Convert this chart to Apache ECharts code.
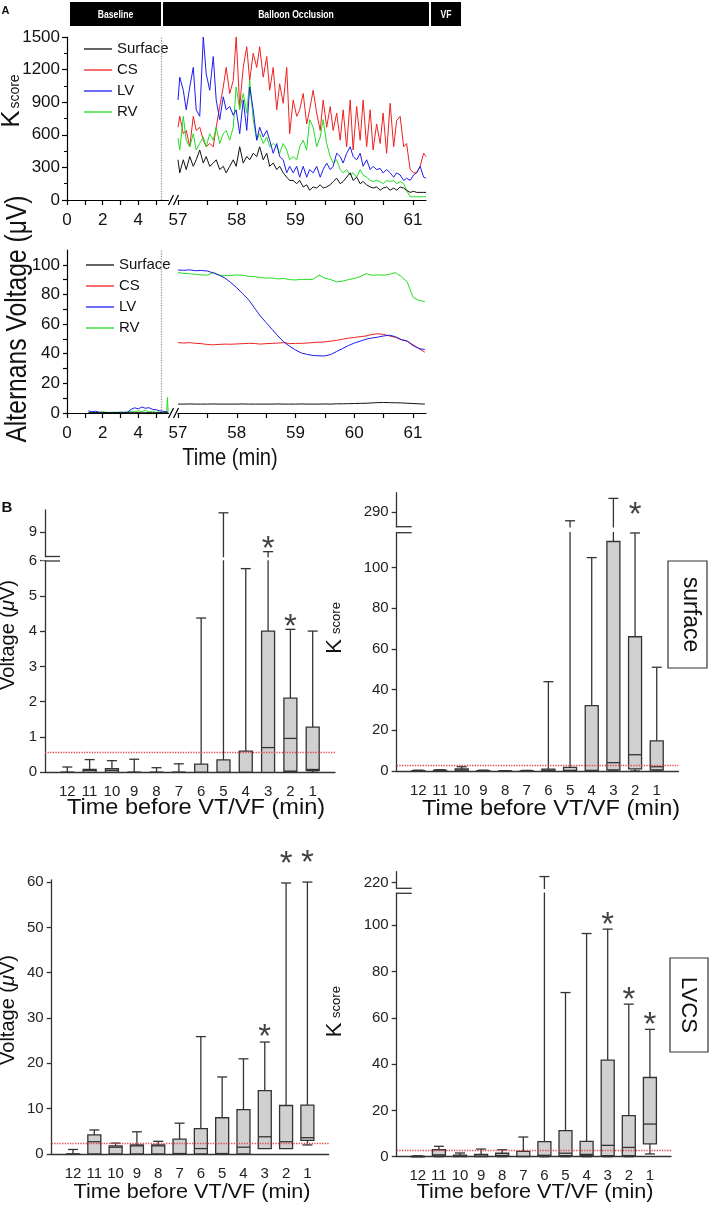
<!DOCTYPE html>
<html>
<head>
<meta charset="utf-8">
<script src="https://cdn.jsdelivr.net/npm/echarts@6.0.0/dist/echarts.min.js"></script>
<style>
html,body{margin:0;padding:0;background:#ffffff;}
#chart{width:709px;height:1211px;}
</style>
</head>
<body>
<div id="chart"></div>
<script>
// ================= DATA =================
// Panel A (top): K-score during balloon occlusion, time in minutes
const kTime = [57.00,57.03,57.09,57.14,57.20,57.26,57.31,57.37,57.43,57.48,
  57.54,57.60,57.65,57.71,57.77,57.82,57.88,57.94,57.99,58.05,
  58.11,58.17,58.22,58.28,58.34,58.39,58.45,58.51,58.56,58.62,
  58.68,58.73,58.79,58.85,58.90,58.96,59.02,59.07,59.13,59.19,
  59.24,59.30,59.36,59.42,59.47,59.53,59.59,59.64,59.70,59.76,
  59.81,59.87,59.93,59.98,60.04,60.10,60.15,60.21,60.27,60.32,
  60.38,60.44,60.49,60.55,60.61,60.67,60.72,60.78,60.84,60.89,
  60.95,61.01,61.06,61.12,61.18,61.22];
const kSurface = [370,250,370,280,400,310,370,460,340,400,
  310,340,370,280,310,250,310,370,310,490,
  340,400,370,430,400,490,370,430,310,340,
  280,310,250,210,180,180,150,180,120,140,
  90,120,110,140,110,120,140,170,200,150,
  170,210,250,180,210,150,170,140,120,110,
  120,90,110,120,90,110,90,120,110,90,
  70,80,70,70,70,70];
const kCS = [670,770,610,640,490,770,640,670,550,490,
  520,490,670,860,1040,1220,980,1100,1500,860,
  1220,1410,1100,1350,1220,1410,1130,1320,1010,1220,
  830,1070,890,1220,610,920,770,830,980,700,
  830,1010,800,640,920,670,860,640,800,550,
  830,490,920,460,860,550,920,490,830,460,
  700,520,800,430,890,490,730,770,490,520,
  280,250,250,310,430,400];
const kLV = [920,1130,1010,830,1040,1220,830,770,1500,1160,
  1010,1320,920,740,950,830,860,780,830,610,
  920,640,1040,830,550,670,580,640,550,430,
  520,400,370,250,310,250,310,210,310,210,
  280,250,310,210,280,340,280,310,430,400,
  340,430,490,400,370,430,310,370,280,310,
  280,290,250,280,250,210,250,230,180,200,
  180,230,250,310,210,200];
const kRV = [570,460,770,550,490,610,460,520,580,490,
  610,550,670,520,610,640,550,670,1040,830,
  980,800,1100,740,550,610,520,580,490,520,
  490,430,520,460,370,400,370,490,550,460,
  740,670,490,580,740,520,400,340,370,280,
  250,280,230,250,210,280,230,210,180,170,
  180,170,150,180,170,180,150,170,150,90,
  30,30,30,30,30,30];

// Panel A (middle): alternans voltage (µV)
const baseTime = [1.2,1.4,1.6,1.8,2.0,2.2,2.4,2.6,2.8,3.0,3.2,3.4,3.6,3.8,4.0,4.2,4.4,4.6,4.8,5.0,5.2,5.4,5.6,5.64,5.68];
const baseSurface = [0.2,0.2,0.3,0.2,0.2,0.3,0.2,0.2,0.3,0.2,0.2,0.3,0.2,0.2,0.3,0.2,0.2,0.3,0.2,0.2,0.3,0.2,0.2,0.2,0.2];
const baseLV = [1.5,0.8,1.2,0.5,0.2,0.3,0.4,0.3,0.4,0.3,0.5,0.6,2.5,3.5,2.8,4.0,3.2,3.6,2.5,2.2,1.5,1.2,0.8,0.6,0.5];
const baseRV = [0.3,0.5,0.2,0.4,1.0,0.5,0.3,0.6,0.4,0.8,0.3,0.5,1.2,0.8,1.5,1.0,1.8,0.6,1.2,0.4,0.8,0.5,0.5,10.5,0.5];
const vTime = [57.0,57.1,57.2,57.3,57.4,57.5,57.6,57.7,57.8,57.9,58.0,58.1,58.2,58.3,58.4,58.5,58.6,58.7,58.8,58.9,
  59.0,59.1,59.2,59.3,59.4,59.5,59.6,59.7,59.8,59.9,60.0,60.1,60.2,60.3,60.4,60.5,60.6,60.7,60.8,60.9,61.0,61.1,61.2];
const vSurface = [6.0,6.0,6.1,6.0,6.0,6.0,6.1,6.0,6.0,6.0,6.0,6.1,6.0,6.0,6.0,6.0,6.0,6.1,6.0,6.0,
  6.0,6.1,6.0,6.0,6.0,6.1,6.0,6.2,6.2,6.3,6.4,6.5,6.6,6.8,7.0,7.1,7.0,6.9,6.8,6.6,6.4,6.2,6.0];
const vCS = [47.5,47.2,47.5,47.0,46.8,46.2,46.0,46.3,46.5,46.4,46.6,46.8,47.0,46.9,46.5,46.8,47.0,47.2,47.5,46.8,
  47.0,47.0,47.2,47.5,47.8,48.0,48.5,49.0,49.8,50.5,51.0,51.5,52.0,53.0,53.5,53.0,52.0,51.0,49.5,48.5,46.0,43.5,41.0];
const vLV = [96.5,96.3,96.6,96.0,96.2,95.8,94.5,93.0,91.0,88.0,84.5,80.5,76.5,71.0,65.5,61.0,56.5,52.0,48.0,45.0,
  42.5,40.5,39.5,38.8,38.6,38.5,39.5,41.5,43.5,45.5,47.2,48.5,49.8,50.6,51.2,52.0,52.5,51.5,49.5,48.5,45.5,43.5,42.8];
const vRV = [94.8,94.2,94.0,93.6,93.2,93.0,95.0,93.0,92.6,92.8,93.2,93.0,92.2,92.0,91.5,91.0,91.2,90.5,90.8,90.0,
  89.8,90.2,90.0,90.3,93.0,91.0,90.0,88.5,89.0,90.0,90.8,92.0,94.0,93.0,93.2,93.0,93.5,94.8,92.0,88.5,78.0,76.0,75.2];
const seriesNames = ['Surface','CS','LV','RV'];
const occlusionStart = 5.28;
const phaseLabels = ['Baseline','Balloon Occlusion','VF'];
const vLabelTicks = [0,20,40,60,80,100];
const baseLabelTicks = [0,2,4];
const occLabelTicks = [57,58,59,60,61];

// Panel B: box plots [min, Q1, median, Q3, max] per minute before VT/VF
const minuteLabels = ['12','11','10','9','8','7','6','5','4','3','2','1'];
const surfVoltBox = [[0,0,0,0,0.15],[0,0,0.05,0.08,0.36],[0,0,0.05,0.1,0.33],[0,0,0,0,0.37],[0,0,0,0,0.13],[0,0,0,0,0.24],
  [0,0,0,0.23,4.37],[0,0,0,0.35,9.55],[0,0,0,0.6,5.77],[0,0,0.7,4.0,8.45],[0,0.03,0.96,2.1,4.05],[0,0.05,0.08,1.28,4.0]];
const surfKBox = [[0,0,0,0.2,0.4],[0,0,0.2,0.4,0.6],[0,0,0.5,1.0,2.1],[0,0,0,0.2,0.4],[0,0,0,0,0.1],[0,0,0,0.1,0.3],
  [0,0,0.3,0.9,43.9],[0,0,0.3,1.8,285.7],[0,0,0.3,32.1,104.9],[0,0.5,4.1,112.8,296.7],[0,1.0,8.0,66,117],[0,0.5,2.1,14.8,51]];
const lvcsVoltBox = [[0,0,0,0,1.0],[0,0,2.7,4.2,5.3],[0,0,1.5,1.8,2.4],[0,0,1.8,2.0,4.9],[0,0,1.8,2.0,2.8],[0,0,0.1,3.3,6.8],
  [0,0,1.2,5.6,25.9],[0,0,0.1,8.0,17.0],[0,0,1.5,9.8,21.0],[1.2,1.2,3.8,14.0,24.7],[1.2,1.2,2.7,10.7,59.8],[2.0,3.0,3.6,10.8,60.0]];
const lvcsKBox = [[0,0,0,0.2,0.4],[0,0.3,0.8,3.0,4.5],[0,0,0.3,0.7,1.6],[0,0,0.3,1.0,3.3],[0,0.2,0.5,1.5,3.0],[0,0,0.2,2.3,8.5],
  [0,0.2,0.6,6.5,222.6],[0,0.5,1.5,11.3,70.9],[0,0.5,1.0,6.6,96.4],[0,0.5,4.9,41.7,98.3],[0,0.5,4.0,17.7,65.9],[1.2,5.5,14.1,34.2,55.0]];
const surfVoltThreshold = 0.555, surfKThreshold = 3.0, lvcsVoltThreshold = 2.3, lvcsKThreshold = 2.9;
const surfVoltStars = ['3','2'], surfKStars = ['2'], lvcsVoltStars = ['3','2','1'], lvcsKStars = ['3','2','1'];
const surfVoltTicks = [0,1,2,3,4,5,6,9];
const surfKTicks = [0,20,40,60,80,100,290];
const lvcsVoltTicks = [0,10,20,30,40,50,60];
const lvcsKTicks = [0,20,40,60,80,100,220];

// ================= STYLE / LAYOUT =================
const SANS = "'Liberation Sans', Arial, Helvetica, sans-serif";
const NARROW = "'Liberation Sans Narrow', 'Arial Narrow', 'Liberation Sans', Arial, sans-serif";
const A_FS = 17;
const lineColors = {Surface:'#111111', CS:'#ee2222', LV:'#1c1cee', RV:'#22dd22'};
const grids = [
  {left:67, top:37, width:101.5, height:163},
  {left:178, top:37, width:248, height:163},
  {left:67, top:250, width:101.5, height:163},
  {left:178, top:250, width:248, height:163}
];
const xAxes = [], yAxes = [], series = [], graphics = [];

function aX(gi, min, max, labels, ticks) {
  return {type:'value', gridIndex:gi, min:min, max:max,
    axisLine:{show:true, onZero:false, lineStyle:{color:'#000', width:1.2}},
    axisTick:{show:true, customValues:ticks, length:5, lineStyle:{color:'#000', width:1.2}},
    axisLabel:{show:true, customValues:labels, formatter:v => String(v), fontFamily:NARROW, fontSize:A_FS, color:'#111', margin:12},
    splitLine:{show:false}};
}
xAxes.push(aX(0, 0, 5.7, baseLabelTicks, [0,1,2,3,4,5]));
xAxes.push(aX(1, 57, 61.22, occLabelTicks, [57,57.5,58,58.5,59,59.5,60,60.5,61]));
xAxes.push(aX(2, 0, 5.7, baseLabelTicks, [0,1,2,3,4,5]));
xAxes.push(aX(3, 57, 61.22, occLabelTicks, [57,57.5,58,58.5,59,59.5,60,60.5,61]));

yAxes.push({type:'value', gridIndex:0, min:0, max:1500, interval:300,
  axisLine:{show:true, lineStyle:{color:'#000', width:1.2}},
  axisTick:{show:true, length:5, lineStyle:{color:'#000', width:1.2}},
  minorTick:{show:true, splitNumber:2, length:3, lineStyle:{color:'#000'}},
  axisLabel:{formatter:v => String(v), fontFamily:NARROW, fontSize:A_FS, color:'#111', margin:7}, splitLine:{show:false}});
yAxes.push({type:'value', gridIndex:1, min:0, max:1500, show:false, splitLine:{show:false}});
yAxes.push({type:'value', gridIndex:2, min:0, max:110,
  axisLine:{show:true, lineStyle:{color:'#000', width:1.2}},
  axisTick:{show:true, length:4, customValues:[0,10,20,30,40,50,60,70,80,90,100], lineStyle:{color:'#000', width:1.2}},
  axisLabel:{customValues:vLabelTicks, formatter:v => String(v), fontFamily:NARROW, fontSize:A_FS, color:'#111', margin:7}, splitLine:{show:false}});
yAxes.push({type:'value', gridIndex:3, min:0, max:110, show:false, splitLine:{show:false}});

function pairs(t, v) { return t.map((x, i) => [x, v[i]]); }
function lineSeries(name, gi, t, v, z) {
  return {type:'line', name:name, xAxisIndex:gi, yAxisIndex:gi, data:pairs(t, v), symbol:'none', showSymbol:false,
    color:lineColors[name], lineStyle:{width:1, color:lineColors[name]}, animation:false, z:z || 2};
}
const dotted = {silent:true, symbol:['none','none'], label:{show:false}, lineStyle:{color:'#9a9a9a', type:'dotted', width:1.3}, data:[{xAxis:occlusionStart}]};
// top chart
series.push({type:'line', name:'_divTop', xAxisIndex:0, yAxisIndex:0, data:[], symbol:'none', markLine:dotted});
series.push(lineSeries('CS', 1, kTime, kCS, 2));
series.push(lineSeries('RV', 1, kTime, kRV, 3));
series.push(lineSeries('LV', 1, kTime, kLV, 4));
series.push(lineSeries('Surface', 1, kTime, kSurface, 5));
// middle chart
const bs = lineSeries('Surface', 2, baseTime, baseSurface, 5);
bs.markLine = dotted;
series.push(bs);
series.push(lineSeries('RV', 2, baseTime, baseRV, 3));
series.push(lineSeries('LV', 2, baseTime, baseLV, 4));
series.push(lineSeries('Surface', 3, vTime, vSurface, 5));
series.push(lineSeries('CS', 3, vTime, vCS, 2));
series.push(lineSeries('RV', 3, vTime, vRV, 3));
series.push(lineSeries('LV', 3, vTime, vLV, 4));

const legendBase = {orient:'vertical', icon:'rect', itemWidth:28, itemHeight:1.3, itemGap:0, selectedMode:false,
  data:seriesNames, textStyle:{fontFamily:NARROW, fontSize:15, lineHeight:21, color:'#111'}};
const legends = [Object.assign({}, legendBase, {left:79, top:33.5}), Object.assign({}, legendBase, {left:81, top:249.5})];

// ---------- panel B ----------
const panels = [
  {grid:{left:45, top:510, width:290, height:262.3}, dMax:7.43, lowMax:6, shift:2.2, ticks:surfVoltTicks,
    boxes:surfVoltBox, thr:surfVoltThreshold, stars:surfVoltStars, lift:[10,9], brk:[556.5,561]},
  {grid:{left:396.7, top:492.7, width:281.7, height:278.3}, dMax:136.8, lowMax:120, shift:162.7, ticks:surfKTicks,
    boxes:surfKBox, thr:surfKThreshold, stars:surfKStars, lift:[25], brk:[526.7,532.7]},
  {grid:{left:51.7, top:879.8, width:277, height:274.2}, dMax:60.5, lowMax:Infinity, shift:0, ticks:lvcsVoltTicks,
    boxes:lvcsVoltBox, thr:lvcsVoltThreshold, stars:lvcsVoltStars, lift:[12,26,26], brk:null},
  {grid:{left:396.7, top:871.7, width:274.3, height:285}, dMax:123.1, lowMax:120, shift:101.6, ticks:lvcsKTicks,
    boxes:lvcsKBox, thr:lvcsKThreshold, stars:lvcsKStars, lift:[11,11,11], brk:[888.3,893.3]}
];
const STAR_FS = 33;
panels.forEach((p, k) => {
  const gi = 4 + k;
  const f = v => (v > p.lowMax ? v - p.shift : v);
  grids.push(p.grid);
  xAxes.push({type:'category', gridIndex:gi, data:[''].concat(minuteLabels, ['']), boundaryGap:false,
    axisLine:{show:true, lineStyle:{color:'#333', width:1.3}}, axisTick:{show:false},
    axisLabel:{interval:0, fontFamily:SANS, fontSize:15, color:'#222', margin:12}, splitLine:{show:false}});
  const dTicks = p.ticks.map(f);
  const labelMap = {};
  p.ticks.forEach((r, i) => { labelMap[dTicks[i].toFixed(3)] = String(r); });
  yAxes.push({type:'value', gridIndex:gi, min:0, max:p.dMax,
    axisLine:{show:true, lineStyle:{color:'#333', width:1.3}},
    axisTick:{show:true, customValues:dTicks, length:5, lineStyle:{color:'#333', width:1.3}},
    axisLabel:{customValues:dTicks, formatter:v => (labelMap[Number(v).toFixed(3)] || ''), fontFamily:SANS, fontSize:15, color:'#222', margin:8},
    splitLine:{show:false}});
  series.push({type:'custom', xAxisIndex:gi, yAxisIndex:gi, animation:false, z:3,
    data:p.boxes.map((b, i) => [i + 1].concat(b.map(f))),
    renderItem:(params, api) => {
      const ci = api.value(0);
      const mn = api.value(1), q1 = api.value(2), md = api.value(3), q3 = api.value(4), mx = api.value(5);
      const c = v => api.coord([ci, v]);
      const x = c(q1)[0];
      const yMn = c(mn)[1], yQ1 = c(q1)[1], yMd = c(md)[1], yQ3 = c(q3)[1], yMx = c(mx)[1];
      const bw = 13, cw = 10;
      const st = {stroke:'#333', lineWidth:1.3, fill:null};
      const ch = [];
      if (mx > q3) ch.push({type:'line', shape:{x1:x, y1:yQ3, x2:x, y2:yMx}, style:st});
      ch.push({type:'line', shape:{x1:x - cw / 2, y1:yMx, x2:x + cw / 2, y2:yMx}, style:st});
      if (mn < q1) {
        ch.push({type:'line', shape:{x1:x, y1:yQ1, x2:x, y2:yMn}, style:st});
        ch.push({type:'line', shape:{x1:x - cw / 2, y1:yMn, x2:x + cw / 2, y2:yMn}, style:st});
      }
      ch.push({type:'rect', shape:{x:x - bw / 2, y:yQ3, width:bw, height:Math.max(yQ1 - yQ3, 0.01)}, style:{fill:'#d0d0d0', stroke:'#333', lineWidth:1.3}});
      ch.push({type:'line', shape:{x1:x - bw / 2, y1:yMd, x2:x + bw / 2, y2:yMd}, style:st});
      return {type:'group', children:ch};
    },
    markLine:{silent:true, symbol:['none','none'], label:{show:false}, lineStyle:{color:'#e04848', type:'dotted', width:1.3},
      data:[{yAxis:f(p.thr)}]}
  });
  series.push({type:'scatter', xAxisIndex:gi, yAxisIndex:gi, symbol:'circle', symbolSize:1, itemStyle:{color:'rgba(0,0,0,0)'},
    silent:true, animation:false, z:6,
    label:{show:true, formatter:'*', position:'inside', fontFamily:SANS, fontSize:STAR_FS, color:'#111'},
    data:p.stars.map((cat, j) => {
      const i = minuteLabels.indexOf(cat);
      return {value:[i + 1, f(p.boxes[i][4])], label:{offset:[0, -(p.lift[j] - 0.24 * STAR_FS)]}};
    })
  });
  if (p.brk) {
    const ax = p.grid.left, right = p.grid.left + p.grid.width;
    graphics.push({type:'rect', z:100, shape:{x:ax - 4, y:p.brk[0] + 0.8, width:right - ax + 4, height:p.brk[1] - p.brk[0] - 1.6}, style:{fill:'#fff'}});
    graphics.push({type:'line', z:101, shape:{x1:ax, y1:p.brk[0], x2:ax + 15, y2:p.brk[0]}, style:{stroke:'#333', lineWidth:1.3}});
    graphics.push({type:'line', z:101, shape:{x1:ax, y1:p.brk[1], x2:ax + 15, y2:p.brk[1]}, style:{stroke:'#333', lineWidth:1.3}});
  }
});

// ---------- annotations ----------
function T(x, y, text, size, o) {
  o = o || {};
  return {type:'text', x:x, y:y, z:100, rotation:o.rot || 0, scaleX:o.sx || 1,
    style:{text:text, fontFamily:o.family || SANS, fontSize:size, fontWeight:o.weight || 'normal', fontStyle:o.style || 'normal',
      fill:o.fill || '#111', align:o.align || 'center', verticalAlign:'middle', rich:o.rich}};
}
const R90 = Math.PI / 2;
// phase header bars
const phaseX = [[70,161],[163,429],[431,461]];
phaseLabels.forEach((lab, i) => {
  graphics.push({type:'rect', z:100, shape:{x:phaseX[i][0], y:2, width:phaseX[i][1] - phaseX[i][0], height:24}, style:{fill:'#000'}});
  graphics.push(T((phaseX[i][0] + phaseX[i][1]) / 2, 14.5, lab, 11.5, {weight:'bold', fill:'#fff', sx:0.75}));
});
graphics.push(T(5.5, 11, 'A', 11, {weight:'bold'}));
graphics.push(T(7, 507.5, 'B', 15, {weight:'bold'}));
// A axis titles
graphics.push(T(11.5, 119, 'K', 26, {rot:R90}));
graphics.push(T(15.5, 91.5, 'score', 14, {rot:R90}));
graphics.push(T(17.5, 319, 'Alternans Voltage (\u03bcV)', 29, {rot:R90, sx:0.85}));
graphics.push(T(230, 458.5, 'Time (min)', 24, {sx:0.84}));
// x-axis breaks in panel A
[200, 413].forEach(y => {
  graphics.push({type:'line', z:101, shape:{x1:168.5, y1:y + 5, x2:173.5, y2:y - 5}, style:{stroke:'#000', lineWidth:1.2}});
  graphics.push({type:'line', z:101, shape:{x1:173.5, y1:y + 5, x2:178.5, y2:y - 5}, style:{stroke:'#000', lineWidth:1.2}});
});
// B axis titles
const voltRich = {a:{fontFamily:SANS, fontSize:20, fill:'#111'}, b:{fontFamily:SANS, fontSize:20, fontStyle:'italic', fill:'#111'}};
graphics.push(T(8.5, 635, '{a|Voltage (}{b|\u03bc}{a|V)}', 20, {rot:R90, rich:voltRich}));
graphics.push(T(8.5, 1010, '{a|Voltage (}{b|\u03bc}{a|V)}', 20, {rot:R90, rich:voltRich}));
graphics.push(T(335, 646.5, 'K', 22, {rot:R90}));
graphics.push(T(336.7, 618, 'score', 13, {rot:R90}));
graphics.push(T(335, 1030, 'K', 22, {rot:R90}));
graphics.push(T(336.7, 1002, 'score', 13, {rot:R90}));
graphics.push(T(196, 808, 'Time before VT/VF (min)', 22, {sx:1.07}));
graphics.push(T(551, 809, 'Time before VT/VF (min)', 22, {sx:1.07}));
graphics.push(T(192, 1192, 'Time before VT/VF (min)', 20, {sx:1.08}));
graphics.push(T(535, 1192, 'Time before VT/VF (min)', 20, {sx:1.08}));
// lead tags
graphics.push({type:'rect', z:100, shape:{x:668, y:561, width:39, height:107}, style:{fill:'#fff', stroke:'#333', lineWidth:1.2}});
graphics.push(T(690, 614.5, 'surface', 23, {rot:-R90}));
graphics.push({type:'rect', z:100, shape:{x:670, y:958, width:38, height:94}, style:{fill:'#fff', stroke:'#333', lineWidth:1.2}});
graphics.push(T(688.5, 1005, 'LVCS', 22, {rot:-R90}));

const chart = echarts.init(document.getElementById('chart'));
chart.setOption({
  backgroundColor:'#ffffff',
  animation:false,
  grid:grids,
  xAxis:xAxes,
  yAxis:yAxes,
  legend:legends,
  series:series,
  graphic:{elements:graphics}
});
</script>
</body>
</html>
